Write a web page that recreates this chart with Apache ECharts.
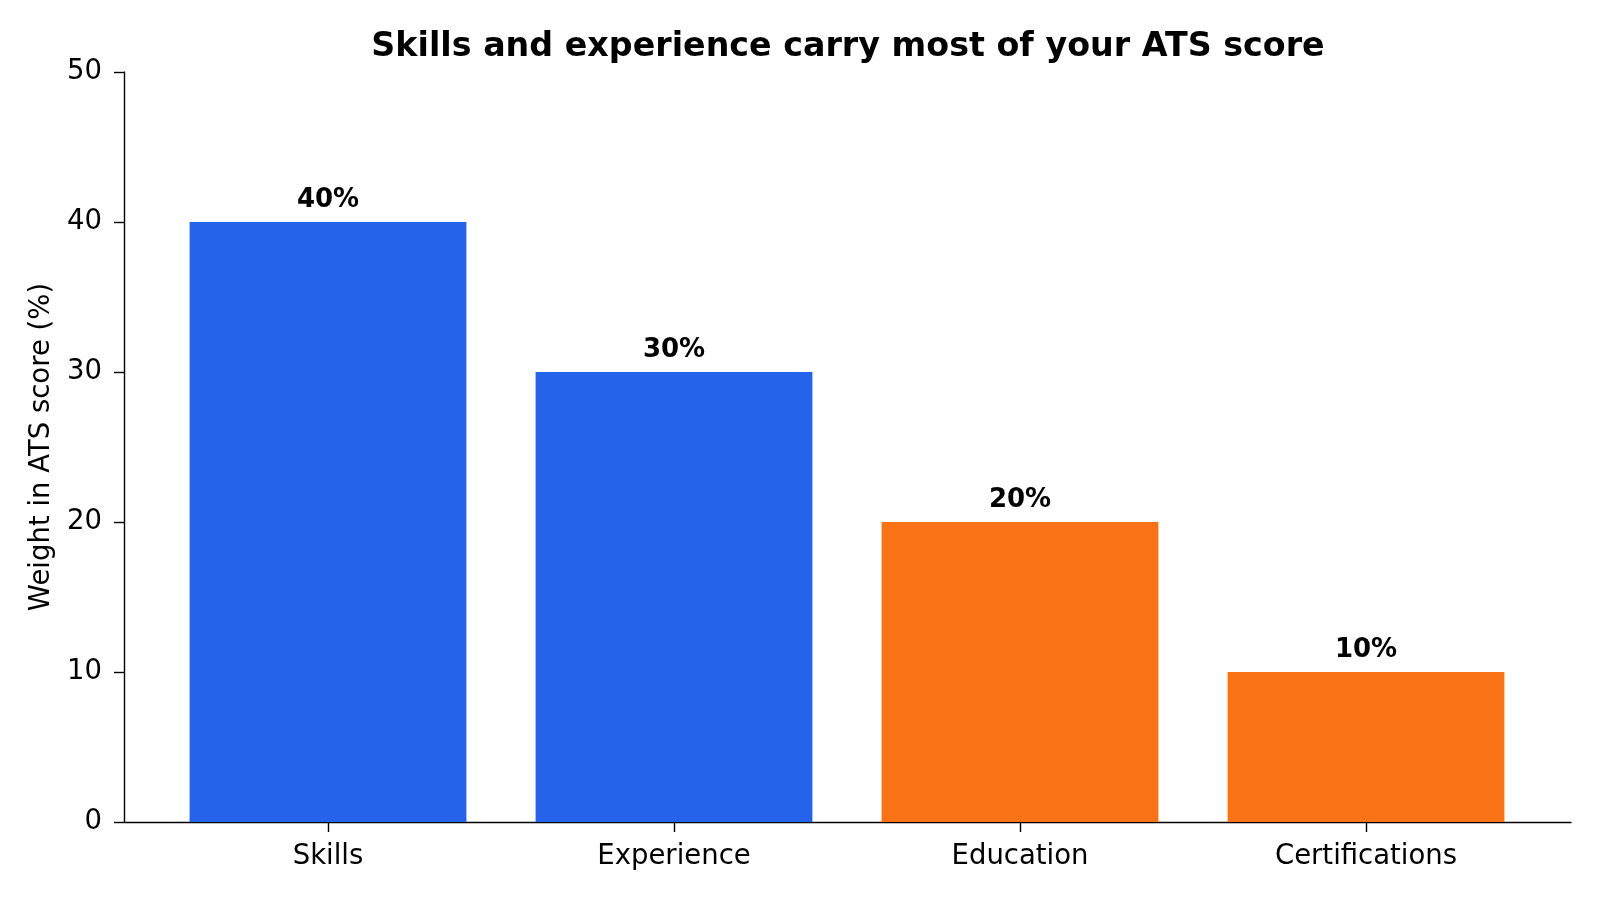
<!DOCTYPE html>
<html>
<head>
<meta charset="utf-8">
<script src="https://cdn.jsdelivr.net/npm/echarts@6/dist/echarts.min.js"></script>
<style>
  html, body { margin: 0; padding: 0; background: #fff; }
  #main { width: 1600px; height: 900px; }
</style>
</head>
<body>
<div id="main"></div>
<script>
// data
var categories = ['Skills', 'Experience', 'Education', 'Certifications'];
var weights = [40, 30, 20, 10];
var barColors = ['#2563eb', '#2563eb', '#f97316', '#f97316'];
var yTicks = [0, 10, 20, 30, 40, 50];

var chart = echarts.init(document.getElementById('main'));
var font = 'DejaVu Sans';

var option = {
  backgroundColor: '#ffffff',
  animation: false,
  title: {
    text: 'Skills and experience carry most of your ATS score',
    left: 843,
    textAlign: 'center',
    top: 26,
    textStyle: { fontFamily: font, fontWeight: 'bold', fontSize: 33.3, color: '#000' }
  },
  grid: [
    // outer frame: y axis + x baseline
    { left: 124, right: 29, top: 72, bottom: 78 },
    // bars: category bands narrower (matplotlib margins)
    { left: 155, right: 61, top: 72, bottom: 78 }
  ],
  xAxis: [
    {
      gridIndex: 0, type: 'value', min: 0, max: 1,
      axisLine: { show: true, lineStyle: { color: '#000', width: 1.4 } },
      axisTick: { show: false }, axisLabel: { show: false }, splitLine: { show: false }
    },
    {
      gridIndex: 1, type: 'category', data: categories,
      axisLine: { show: false },
      axisTick: { show: true, alignWithLabel: true, length: 10, lineStyle: { color: '#000', width: 1.4 } },
      axisLabel: { margin: 21, fontFamily: font, fontSize: 27.5, color: '#000' },
      splitLine: { show: false }
    }
  ],
  yAxis: [
    {
      gridIndex: 0, type: 'value', min: yTicks[0], max: yTicks[yTicks.length - 1], interval: 10,
      name: 'Weight in ATS score (%)',
      nameLocation: 'middle', nameGap: 66,
      nameTextStyle: { fontFamily: font, fontSize: 27.5, color: '#000' },
      axisLine: { show: true, lineStyle: { color: '#000', width: 1.4 } },
      axisTick: { show: true, length: 10, lineStyle: { color: '#000', width: 1.4 } },
      axisLabel: { margin: 22, fontFamily: font, fontSize: 27.5, color: '#000' },
      splitLine: { show: false }
    },
    {
      gridIndex: 1, type: 'value', min: 0, max: 50, show: false
    }
  ],
  series: [{
    type: 'bar',
    xAxisIndex: 1,
    yAxisIndex: 1,
    barWidth: '80%',
    data: weights.map(function (v, i) {
      return { value: v, itemStyle: { color: barColors[i] } };
    }),
    label: {
      show: true,
      position: 'top',
      distance: 9,
      formatter: '{c}%',
      fontFamily: font,
      fontWeight: 'bold',
      fontSize: 26,
      color: '#000'
    }
  }]
};

chart.setOption(option);
</script>
</body>
</html>
